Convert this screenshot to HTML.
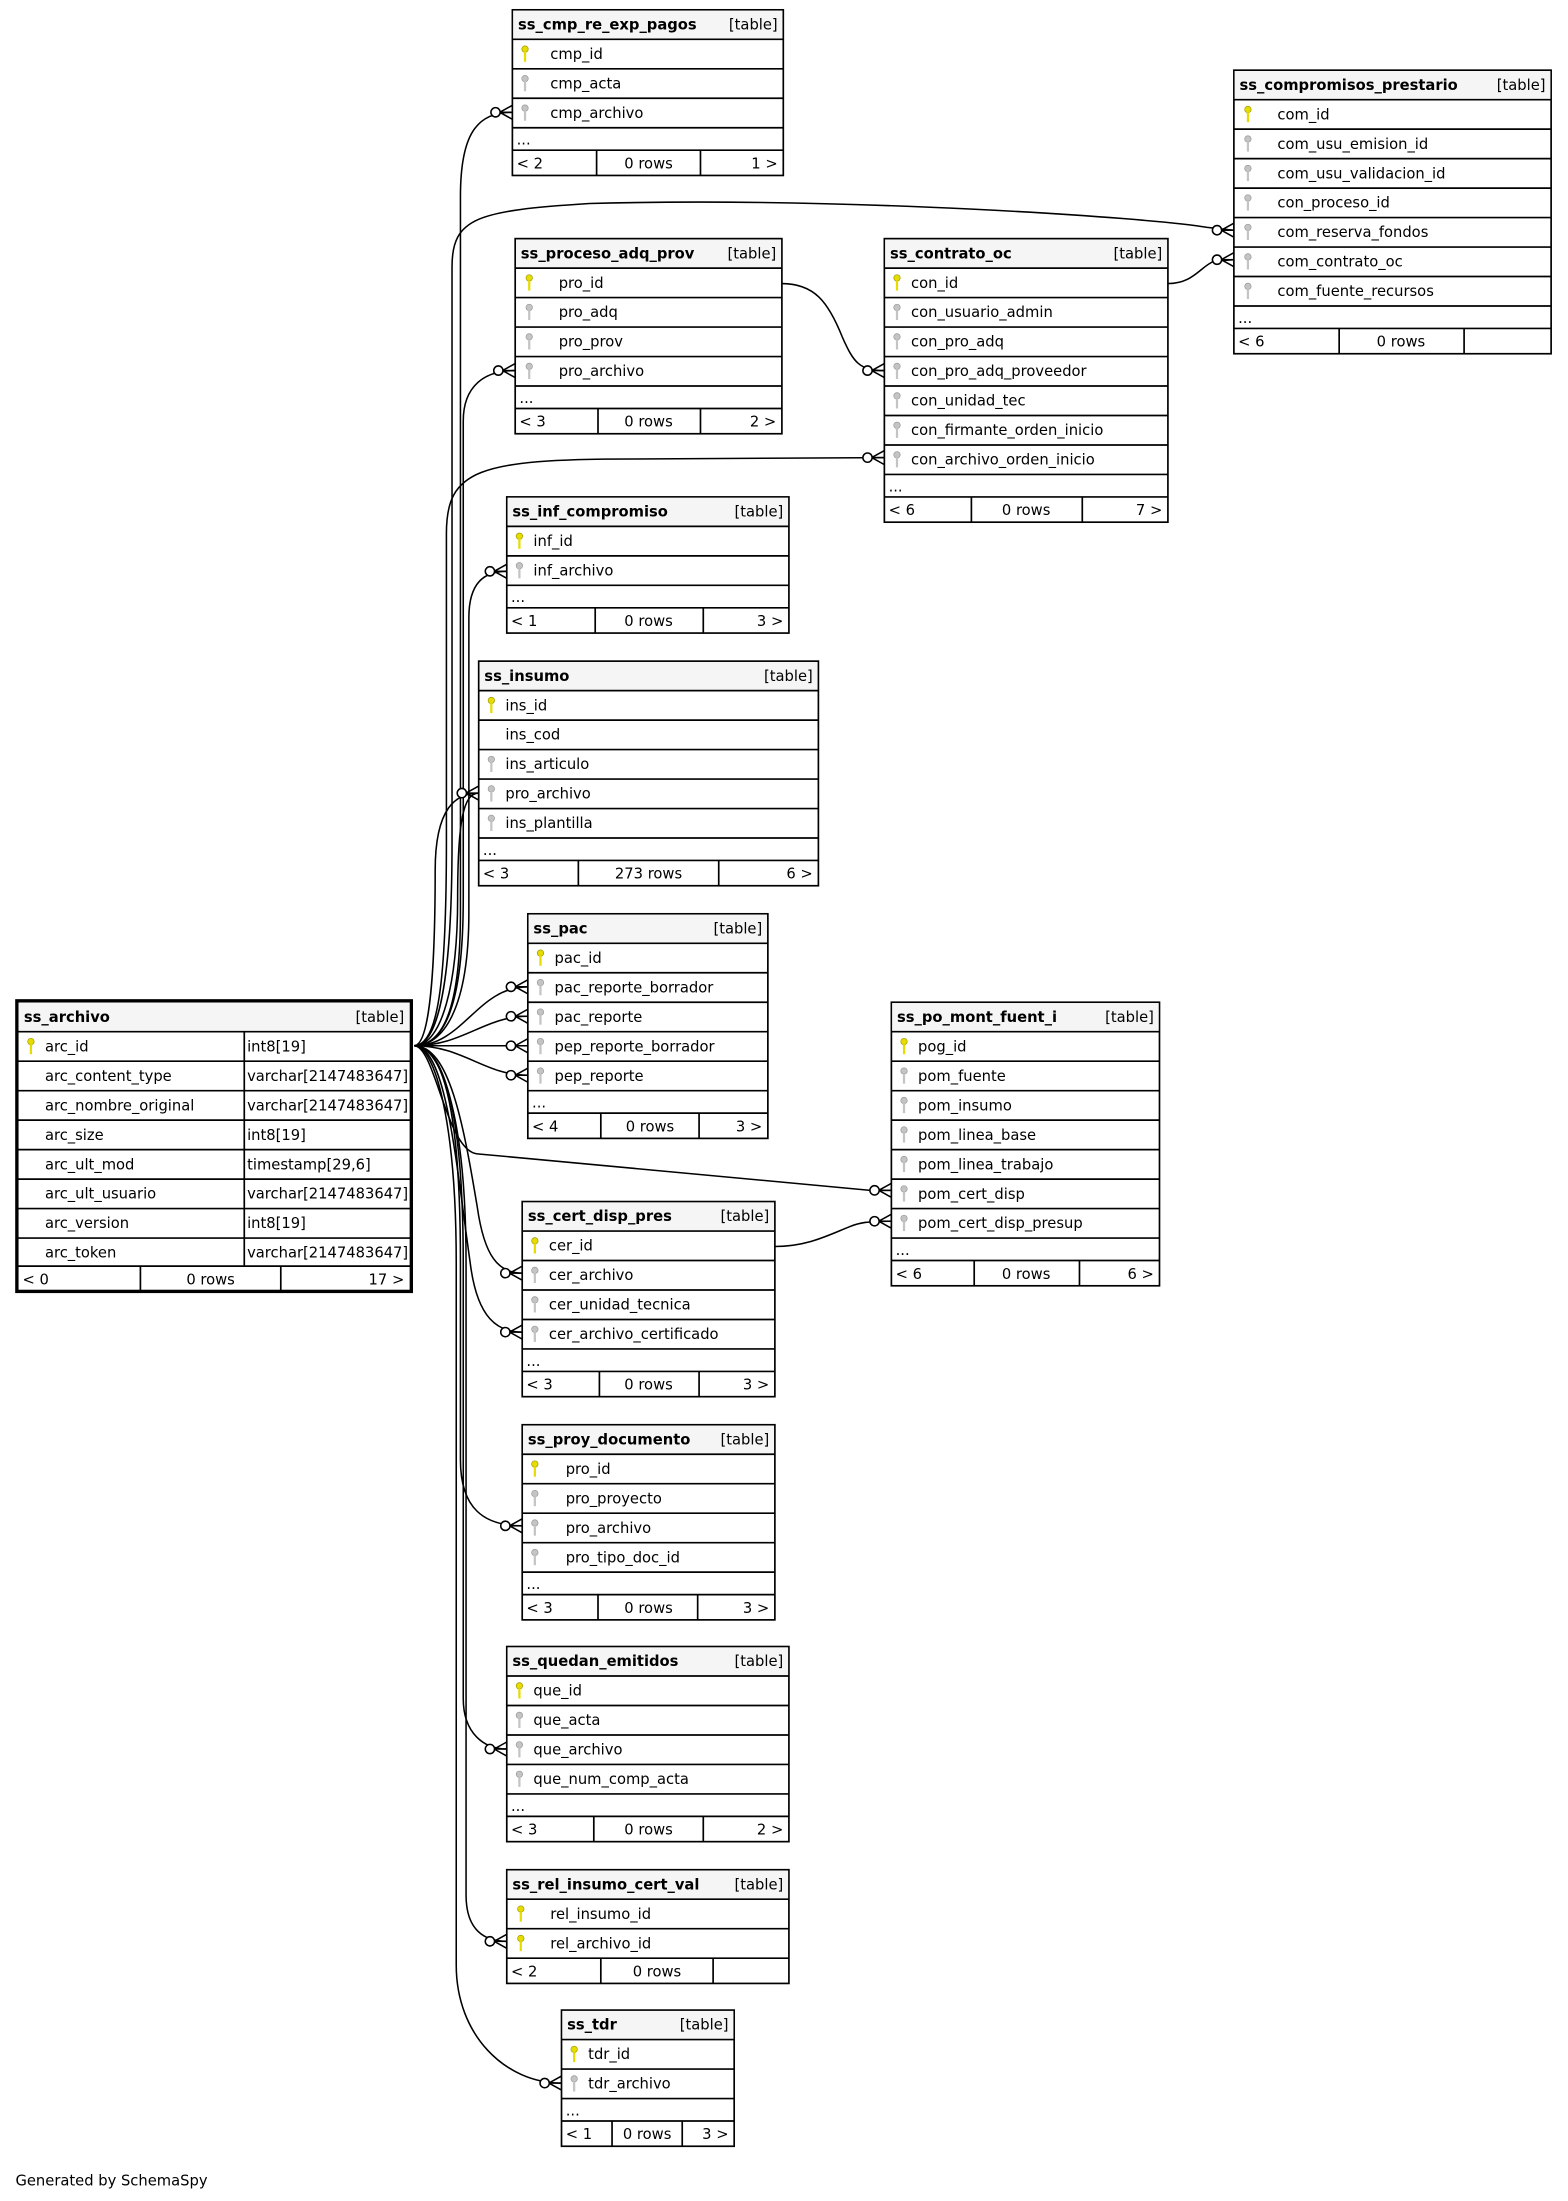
<!DOCTYPE html>
<html><head><meta charset="utf-8"><style>
html,body{margin:0;padding:0;background:#fff;}
svg{display:block;}
text{font-family:"DejaVu Sans","Liberation Sans",sans-serif;font-size:10.5px;fill:#000;}
.b{font-weight:bold;}
.e{text-anchor:end;}
.m{text-anchor:middle;}
.h{fill:#f5f5f5;}
.t{fill:#fff;stroke:#000;stroke-width:1.2;}
.l{stroke:#000;stroke-width:1.2;}
.c{fill:none;stroke:#000;stroke-width:1.1;}
.o{fill:#fff;stroke:#000;stroke-width:1.1;}
</style></head><body>
<svg width="1568" height="2201" viewBox="0 0 1117 1568" xmlns="http://www.w3.org/2000/svg">
<defs>
<g id="pk"><circle cx="0" cy="-3" r="2.3" fill="#e6dc00" stroke="#a09a00" stroke-width="0.5"/><rect x="-0.8" y="-1" width="1.6" height="7" fill="#e6dc00"/></g>
<g id="fk"><circle cx="0" cy="-3" r="2.3" fill="#c4c4c4" stroke="#999" stroke-width="0.5"/><rect x="-0.8" y="-1" width="1.6" height="7" fill="#c4c4c4"/></g>
<g id="cf"><line x1="-9" y1="0" x2="0" y2="-5" class="c"/><line x1="-9" y1="0" x2="0" y2="0" class="c"/><line x1="-9" y1="0" x2="0" y2="5" class="c"/><circle cx="-12" cy="0" r="3.3" class="o"/></g>
</defs>

<path class="c" d="M295,745 C315,745 328,720 328,650 L328,140 C328,95 340,80 365,80"/>
<path class="c" d="M295,745 C312,745 322,700 322,600 L322,190 C322,155 340,150 420,145 C600,140 820,155 860,162 L879,164"/>
<path class="c" d="M295,745 C315,745 330,720 330,640 L330,300 C330,275 345,264 367,264"/>
<path class="c" d="M295,745 C312,745 318,700 318,600 L318,380 C318,335 340,327 450,327 L630,326"/>
<path class="c" d="M295,745 C315,745 334,720 334,650 L334,440 C334,415 345,407 361,407"/>
<path class="c" d="M295,745 C305,745 310,700 310,620 C310,575 325,565 341,565"/>
<path class="c" d="M295,745 C315,745 326,700 326,640 C326,585 330,565 341,565"/>
<path class="c" d="M295,745 C330,745 340,703 376,703"/>
<path class="c" d="M295,745 C330,745 345,724 376,724"/>
<path class="c" d="M295,745 L376,745"/>
<path class="c" d="M295,745 C330,745 345,766 376,766"/>
<path class="c" d="M295,745 C310,745 318,820 340,822 L620,848 L635,848"/>
<path class="c" d="M295,745 C320,745 330,800 340,860 C345,895 355,907 372,907"/>
<path class="c" d="M295,745 C318,745 325,830 335,900 C340,940 355,949 372,949"/>
<path class="c" d="M295,745 C318,745 328,800 328,900 L328,1040 C328,1075 345,1087 372,1087"/>
<path class="c" d="M295,745 C318,745 330,800 330,900 L330,1210 C330,1235 345,1246 361,1246"/>
<path class="c" d="M295,745 C316,745 332,800 332,900 L332,1350 C332,1375 345,1383 361,1383"/>
<path class="c" d="M295,745 C310,745 325,800 325,900 L325,1400 C325,1450 360,1484 400,1484"/>
<path class="c" d="M557,202 C580,202 590,215 600,240 C608,258 612,264 630,264"/>
<path class="c" d="M832,202 C850,202 855,190 865,186 L879,185"/>
<path class="c" d="M552,888 C575,888 590,880 605,874 C612,871 618,870 635,870"/>

<use href="#cf" x="365" y="80"/>
<use href="#cf" x="879" y="164"/>
<use href="#cf" x="879" y="185"/>
<use href="#cf" x="367" y="264"/>
<use href="#cf" x="630" y="264"/>
<use href="#cf" x="630" y="326"/>
<use href="#cf" x="361" y="407"/>
<use href="#cf" x="341" y="565"/>
<use href="#cf" x="376" y="703"/>
<use href="#cf" x="376" y="724"/>
<use href="#cf" x="376" y="745"/>
<use href="#cf" x="376" y="766"/>
<use href="#cf" x="635" y="848"/>
<use href="#cf" x="635" y="870"/>
<use href="#cf" x="372" y="907"/>
<use href="#cf" x="372" y="949"/>
<use href="#cf" x="372" y="1087"/>
<use href="#cf" x="361" y="1246"/>
<use href="#cf" x="361" y="1383"/>
<use href="#cf" x="400" y="1484"/>

<g transform="translate(365,7)">
<rect class="t" x="0" y="0" width="193" height="118"/><rect class="h" x="0.6" y="0.6" width="191.8" height="20.4"/>
<line class="l" x1="0" y1="21" x2="193" y2="21"/><line class="l" x1="0" y1="42" x2="193" y2="42"/><line class="l" x1="0" y1="63" x2="193" y2="63"/><line class="l" x1="0" y1="84" x2="193" y2="84"/><line class="l" x1="0" y1="100" x2="193" y2="100"/>
<line class="l" x1="60" y1="100" x2="60" y2="118"/><line class="l" x1="134" y1="100" x2="134" y2="118"/>
<text class="b" x="4" y="14">ss_cmp_re_exp_pagos</text><text class="e" x="189" y="14">[table]</text>
<use href="#pk" x="9" y="31"/><text x="27" y="35">cmp_id</text>
<use href="#fk" x="9" y="52"/><text x="27" y="56">cmp_acta</text>
<use href="#fk" x="9" y="73"/><text x="27" y="77">cmp_archivo</text>
<text x="3" y="96">...</text>
<text x="3" y="113">&lt; 2</text><text class="m" x="97" y="113">0 rows</text><text class="e" x="189" y="113">1 &gt;</text>
</g>

<g transform="translate(879,50)">
<rect class="t" x="0" y="0" width="226" height="202"/><rect class="h" x="0.6" y="0.6" width="224.8" height="20.4"/>
<line class="l" x1="0" y1="21" x2="226" y2="21"/><line class="l" x1="0" y1="42" x2="226" y2="42"/><line class="l" x1="0" y1="63" x2="226" y2="63"/><line class="l" x1="0" y1="84" x2="226" y2="84"/><line class="l" x1="0" y1="105" x2="226" y2="105"/><line class="l" x1="0" y1="126" x2="226" y2="126"/><line class="l" x1="0" y1="147" x2="226" y2="147"/><line class="l" x1="0" y1="168" x2="226" y2="168"/><line class="l" x1="0" y1="184" x2="226" y2="184"/>
<line class="l" x1="75" y1="184" x2="75" y2="202"/><line class="l" x1="164" y1="184" x2="164" y2="202"/>
<text class="b" x="4" y="14">ss_compromisos_prestario</text><text class="e" x="222" y="14">[table]</text>
<use href="#pk" x="10" y="31"/><text x="31" y="35">com_id</text>
<use href="#fk" x="10" y="52"/><text x="31" y="56">com_usu_emision_id</text>
<use href="#fk" x="10" y="73"/><text x="31" y="77">com_usu_validacion_id</text>
<use href="#fk" x="10" y="94"/><text x="31" y="98">con_proceso_id</text>
<use href="#fk" x="10" y="115"/><text x="31" y="119">com_reserva_fondos</text>
<use href="#fk" x="10" y="136"/><text x="31" y="140">com_contrato_oc</text>
<use href="#fk" x="10" y="157"/><text x="31" y="161">com_fuente_recursos</text>
<text x="3" y="180">...</text>
<text x="3" y="197">&lt; 6</text><text class="m" x="119" y="197">0 rows</text>
</g>

<g transform="translate(367,170)">
<rect class="t" x="0" y="0" width="190" height="139"/><rect class="h" x="0.6" y="0.6" width="188.8" height="20.4"/>
<line class="l" x1="0" y1="21" x2="190" y2="21"/><line class="l" x1="0" y1="42" x2="190" y2="42"/><line class="l" x1="0" y1="63" x2="190" y2="63"/><line class="l" x1="0" y1="84" x2="190" y2="84"/><line class="l" x1="0" y1="105" x2="190" y2="105"/><line class="l" x1="0" y1="121" x2="190" y2="121"/>
<line class="l" x1="59" y1="121" x2="59" y2="139"/><line class="l" x1="132" y1="121" x2="132" y2="139"/>
<text class="b" x="4" y="14">ss_proceso_adq_prov</text><text class="e" x="186" y="14">[table]</text>
<use href="#pk" x="10" y="31"/><text x="31" y="35">pro_id</text>
<use href="#fk" x="10" y="52"/><text x="31" y="56">pro_adq</text>
<use href="#fk" x="10" y="73"/><text x="31" y="77">pro_prov</text>
<use href="#fk" x="10" y="94"/><text x="31" y="98">pro_archivo</text>
<text x="3" y="117">...</text>
<text x="3" y="134">&lt; 3</text><text class="m" x="95" y="134">0 rows</text><text class="e" x="186" y="134">2 &gt;</text>
</g>

<g transform="translate(630,170)">
<rect class="t" x="0" y="0" width="202" height="202"/><rect class="h" x="0.6" y="0.6" width="200.8" height="20.4"/>
<line class="l" x1="0" y1="21" x2="202" y2="21"/><line class="l" x1="0" y1="42" x2="202" y2="42"/><line class="l" x1="0" y1="63" x2="202" y2="63"/><line class="l" x1="0" y1="84" x2="202" y2="84"/><line class="l" x1="0" y1="105" x2="202" y2="105"/><line class="l" x1="0" y1="126" x2="202" y2="126"/><line class="l" x1="0" y1="147" x2="202" y2="147"/><line class="l" x1="0" y1="168" x2="202" y2="168"/><line class="l" x1="0" y1="184" x2="202" y2="184"/>
<line class="l" x1="62" y1="184" x2="62" y2="202"/><line class="l" x1="141" y1="184" x2="141" y2="202"/>
<text class="b" x="4" y="14">ss_contrato_oc</text><text class="e" x="198" y="14">[table]</text>
<use href="#pk" x="9" y="31"/><text x="19" y="35">con_id</text>
<use href="#fk" x="9" y="52"/><text x="19" y="56">con_usuario_admin</text>
<use href="#fk" x="9" y="73"/><text x="19" y="77">con_pro_adq</text>
<use href="#fk" x="9" y="94"/><text x="19" y="98">con_pro_adq_proveedor</text>
<use href="#fk" x="9" y="115"/><text x="19" y="119">con_unidad_tec</text>
<use href="#fk" x="9" y="136"/><text x="19" y="140">con_firmante_orden_inicio</text>
<use href="#fk" x="9" y="157"/><text x="19" y="161">con_archivo_orden_inicio</text>
<text x="3" y="180">...</text>
<text x="3" y="197">&lt; 6</text><text class="m" x="101" y="197">0 rows</text><text class="e" x="198" y="197">7 &gt;</text>
</g>

<g transform="translate(361,354)">
<rect class="t" x="0" y="0" width="201" height="97"/><rect class="h" x="0.6" y="0.6" width="199.8" height="20.4"/>
<line class="l" x1="0" y1="21" x2="201" y2="21"/><line class="l" x1="0" y1="42" x2="201" y2="42"/><line class="l" x1="0" y1="63" x2="201" y2="63"/><line class="l" x1="0" y1="79" x2="201" y2="79"/>
<line class="l" x1="63" y1="79" x2="63" y2="97"/><line class="l" x1="140" y1="79" x2="140" y2="97"/>
<text class="b" x="4" y="14">ss_inf_compromiso</text><text class="e" x="197" y="14">[table]</text>
<use href="#pk" x="9" y="31"/><text x="19" y="35">inf_id</text>
<use href="#fk" x="9" y="52"/><text x="19" y="56">inf_archivo</text>
<text x="3" y="75">...</text>
<text x="3" y="92">&lt; 1</text><text class="m" x="101" y="92">0 rows</text><text class="e" x="197" y="92">3 &gt;</text>
</g>

<g transform="translate(341,471)">
<rect class="t" x="0" y="0" width="242" height="160"/><rect class="h" x="0.6" y="0.6" width="240.8" height="20.4"/>
<line class="l" x1="0" y1="21" x2="242" y2="21"/><line class="l" x1="0" y1="42" x2="242" y2="42"/><line class="l" x1="0" y1="63" x2="242" y2="63"/><line class="l" x1="0" y1="84" x2="242" y2="84"/><line class="l" x1="0" y1="105" x2="242" y2="105"/><line class="l" x1="0" y1="126" x2="242" y2="126"/><line class="l" x1="0" y1="142" x2="242" y2="142"/>
<line class="l" x1="71" y1="142" x2="71" y2="160"/><line class="l" x1="171" y1="142" x2="171" y2="160"/>
<text class="b" x="4" y="14">ss_insumo</text><text class="e" x="238" y="14">[table]</text>
<use href="#pk" x="9" y="31"/><text x="19" y="35">ins_id</text>
<text x="19" y="56">ins_cod</text>
<use href="#fk" x="9" y="73"/><text x="19" y="77">ins_articulo</text>
<use href="#fk" x="9" y="94"/><text x="19" y="98">pro_archivo</text>
<use href="#fk" x="9" y="115"/><text x="19" y="119">ins_plantilla</text>
<text x="3" y="138">...</text>
<text x="3" y="155">&lt; 3</text><text class="m" x="121" y="155">273 rows</text><text class="e" x="238" y="155">6 &gt;</text>
</g>

<g transform="translate(376,651)">
<rect class="t" x="0" y="0" width="171" height="160"/><rect class="h" x="0.6" y="0.6" width="169.8" height="20.4"/>
<line class="l" x1="0" y1="21" x2="171" y2="21"/><line class="l" x1="0" y1="42" x2="171" y2="42"/><line class="l" x1="0" y1="63" x2="171" y2="63"/><line class="l" x1="0" y1="84" x2="171" y2="84"/><line class="l" x1="0" y1="105" x2="171" y2="105"/><line class="l" x1="0" y1="126" x2="171" y2="126"/><line class="l" x1="0" y1="142" x2="171" y2="142"/>
<line class="l" x1="52" y1="142" x2="52" y2="160"/><line class="l" x1="122" y1="142" x2="122" y2="160"/>
<text class="b" x="4" y="14">ss_pac</text><text class="e" x="167" y="14">[table]</text>
<use href="#pk" x="9" y="31"/><text x="19" y="35">pac_id</text>
<use href="#fk" x="9" y="52"/><text x="19" y="56">pac_reporte_borrador</text>
<use href="#fk" x="9" y="73"/><text x="19" y="77">pac_reporte</text>
<use href="#fk" x="9" y="94"/><text x="19" y="98">pep_reporte_borrador</text>
<use href="#fk" x="9" y="115"/><text x="19" y="119">pep_reporte</text>
<text x="3" y="138">...</text>
<text x="3" y="155">&lt; 4</text><text class="m" x="87" y="155">0 rows</text><text class="e" x="167" y="155">3 &gt;</text>
</g>

<g transform="translate(12,713)">
<rect x="0" y="0" width="281" height="207" fill="#fff" stroke="#000" stroke-width="2.4"/><rect class="h" x="1.2" y="1.2" width="278.6" height="20.8"/>
<line class="l" x1="0" y1="22" x2="281" y2="22"/><line class="l" x1="0" y1="43" x2="281" y2="43"/><line class="l" x1="0" y1="64" x2="281" y2="64"/><line class="l" x1="0" y1="85" x2="281" y2="85"/><line class="l" x1="0" y1="106" x2="281" y2="106"/><line class="l" x1="0" y1="127" x2="281" y2="127"/><line class="l" x1="0" y1="148" x2="281" y2="148"/><line class="l" x1="0" y1="169" x2="281" y2="169"/><line class="l" x1="0" y1="189" x2="281" y2="189"/>
<line class="l" x1="162" y1="22" x2="162" y2="189"/>
<line class="l" x1="88" y1="189" x2="88" y2="207"/><line class="l" x1="188" y1="189" x2="188" y2="207"/>
<text class="b" x="5" y="15">ss_archivo</text><text class="e" x="276" y="15">[table]</text>
<use href="#pk" x="10" y="32"/><text x="20" y="36">arc_id</text><text x="164" y="36">int8[19]</text>
<text x="20" y="57">arc_content_type</text><text x="164" y="57">varchar[2147483647]</text>
<text x="20" y="78">arc_nombre_original</text><text x="164" y="78">varchar[2147483647]</text>
<text x="20" y="99">arc_size</text><text x="164" y="99">int8[19]</text>
<text x="20" y="120">arc_ult_mod</text><text x="164" y="120">timestamp[29,6]</text>
<text x="20" y="141">arc_ult_usuario</text><text x="164" y="141">varchar[2147483647]</text>
<text x="20" y="162">arc_version</text><text x="164" y="162">int8[19]</text>
<text x="20" y="183">arc_token</text><text x="164" y="183">varchar[2147483647]</text>
<text x="4" y="202">&lt; 0</text><text class="m" x="138" y="202">0 rows</text><text class="e" x="276" y="202">17 &gt;</text>
</g>

<g transform="translate(635,714)">
<rect class="t" x="0" y="0" width="191" height="202"/><rect class="h" x="0.6" y="0.6" width="189.8" height="20.4"/>
<line class="l" x1="0" y1="21" x2="191" y2="21"/><line class="l" x1="0" y1="42" x2="191" y2="42"/><line class="l" x1="0" y1="63" x2="191" y2="63"/><line class="l" x1="0" y1="84" x2="191" y2="84"/><line class="l" x1="0" y1="105" x2="191" y2="105"/><line class="l" x1="0" y1="126" x2="191" y2="126"/><line class="l" x1="0" y1="147" x2="191" y2="147"/><line class="l" x1="0" y1="168" x2="191" y2="168"/><line class="l" x1="0" y1="184" x2="191" y2="184"/>
<line class="l" x1="59" y1="184" x2="59" y2="202"/><line class="l" x1="134" y1="184" x2="134" y2="202"/>
<text class="b" x="4" y="14">ss_po_mont_fuent_i</text><text class="e" x="187" y="14">[table]</text>
<use href="#pk" x="9" y="31"/><text x="19" y="35">pog_id</text>
<use href="#fk" x="9" y="52"/><text x="19" y="56">pom_fuente</text>
<use href="#fk" x="9" y="73"/><text x="19" y="77">pom_insumo</text>
<use href="#fk" x="9" y="94"/><text x="19" y="98">pom_linea_base</text>
<use href="#fk" x="9" y="115"/><text x="19" y="119">pom_linea_trabajo</text>
<use href="#fk" x="9" y="136"/><text x="19" y="140">pom_cert_disp</text>
<use href="#fk" x="9" y="157"/><text x="19" y="161">pom_cert_disp_presup</text>
<text x="3" y="180">...</text>
<text x="3" y="197">&lt; 6</text><text class="m" x="96" y="197">0 rows</text><text class="e" x="187" y="197">6 &gt;</text>
</g>

<g transform="translate(372,856)">
<rect class="t" x="0" y="0" width="180" height="139"/><rect class="h" x="0.6" y="0.6" width="178.8" height="20.4"/>
<line class="l" x1="0" y1="21" x2="180" y2="21"/><line class="l" x1="0" y1="42" x2="180" y2="42"/><line class="l" x1="0" y1="63" x2="180" y2="63"/><line class="l" x1="0" y1="84" x2="180" y2="84"/><line class="l" x1="0" y1="105" x2="180" y2="105"/><line class="l" x1="0" y1="121" x2="180" y2="121"/>
<line class="l" x1="55" y1="121" x2="55" y2="139"/><line class="l" x1="126" y1="121" x2="126" y2="139"/>
<text class="b" x="4" y="14">ss_cert_disp_pres</text><text class="e" x="176" y="14">[table]</text>
<use href="#pk" x="9" y="31"/><text x="19" y="35">cer_id</text>
<use href="#fk" x="9" y="52"/><text x="19" y="56">cer_archivo</text>
<use href="#fk" x="9" y="73"/><text x="19" y="77">cer_unidad_tecnica</text>
<use href="#fk" x="9" y="94"/><text x="19" y="98">cer_archivo_certificado</text>
<text x="3" y="117">...</text>
<text x="3" y="134">&lt; 3</text><text class="m" x="90" y="134">0 rows</text><text class="e" x="176" y="134">3 &gt;</text>
</g>

<g transform="translate(372,1015)">
<rect class="t" x="0" y="0" width="180" height="139"/><rect class="h" x="0.6" y="0.6" width="178.8" height="20.4"/>
<line class="l" x1="0" y1="21" x2="180" y2="21"/><line class="l" x1="0" y1="42" x2="180" y2="42"/><line class="l" x1="0" y1="63" x2="180" y2="63"/><line class="l" x1="0" y1="84" x2="180" y2="84"/><line class="l" x1="0" y1="105" x2="180" y2="105"/><line class="l" x1="0" y1="121" x2="180" y2="121"/>
<line class="l" x1="54" y1="121" x2="54" y2="139"/><line class="l" x1="125" y1="121" x2="125" y2="139"/>
<text class="b" x="4" y="14">ss_proy_documento</text><text class="e" x="176" y="14">[table]</text>
<use href="#pk" x="9" y="31"/><text x="31" y="35">pro_id</text>
<use href="#fk" x="9" y="52"/><text x="31" y="56">pro_proyecto</text>
<use href="#fk" x="9" y="73"/><text x="31" y="77">pro_archivo</text>
<use href="#fk" x="9" y="94"/><text x="31" y="98">pro_tipo_doc_id</text>
<text x="3" y="117">...</text>
<text x="3" y="134">&lt; 3</text><text class="m" x="90" y="134">0 rows</text><text class="e" x="176" y="134">3 &gt;</text>
</g>

<g transform="translate(361,1173)">
<rect class="t" x="0" y="0" width="201" height="139"/><rect class="h" x="0.6" y="0.6" width="199.8" height="20.4"/>
<line class="l" x1="0" y1="21" x2="201" y2="21"/><line class="l" x1="0" y1="42" x2="201" y2="42"/><line class="l" x1="0" y1="63" x2="201" y2="63"/><line class="l" x1="0" y1="84" x2="201" y2="84"/><line class="l" x1="0" y1="105" x2="201" y2="105"/><line class="l" x1="0" y1="121" x2="201" y2="121"/>
<line class="l" x1="62" y1="121" x2="62" y2="139"/><line class="l" x1="140" y1="121" x2="140" y2="139"/>
<text class="b" x="4" y="14">ss_quedan_emitidos</text><text class="e" x="197" y="14">[table]</text>
<use href="#pk" x="9" y="31"/><text x="19" y="35">que_id</text>
<use href="#fk" x="9" y="52"/><text x="19" y="56">que_acta</text>
<use href="#fk" x="9" y="73"/><text x="19" y="77">que_archivo</text>
<use href="#fk" x="9" y="94"/><text x="19" y="98">que_num_comp_acta</text>
<text x="3" y="117">...</text>
<text x="3" y="134">&lt; 3</text><text class="m" x="101" y="134">0 rows</text><text class="e" x="197" y="134">2 &gt;</text>
</g>

<g transform="translate(361,1332)">
<rect class="t" x="0" y="0" width="201" height="81"/><rect class="h" x="0.6" y="0.6" width="199.8" height="20.4"/>
<line class="l" x1="0" y1="21" x2="201" y2="21"/><line class="l" x1="0" y1="42" x2="201" y2="42"/><line class="l" x1="0" y1="63" x2="201" y2="63"/>
<line class="l" x1="67" y1="63" x2="67" y2="81"/><line class="l" x1="147" y1="63" x2="147" y2="81"/>
<text class="b" x="4" y="14">ss_rel_insumo_cert_val</text><text class="e" x="197" y="14">[table]</text>
<use href="#pk" x="10" y="31"/><text x="31" y="35">rel_insumo_id</text>
<use href="#pk" x="10" y="52"/><text x="31" y="56">rel_archivo_id</text>
<text x="3" y="76">&lt; 2</text><text class="m" x="107" y="76">0 rows</text>
</g>

<g transform="translate(400,1432)">
<rect class="t" x="0" y="0" width="123" height="97"/><rect class="h" x="0.6" y="0.6" width="121.8" height="20.4"/>
<line class="l" x1="0" y1="21" x2="123" y2="21"/><line class="l" x1="0" y1="42" x2="123" y2="42"/><line class="l" x1="0" y1="63" x2="123" y2="63"/><line class="l" x1="0" y1="79" x2="123" y2="79"/>
<line class="l" x1="36" y1="79" x2="36" y2="97"/><line class="l" x1="86" y1="79" x2="86" y2="97"/>
<text class="b" x="4" y="14">ss_tdr</text><text class="e" x="119" y="14">[table]</text>
<use href="#pk" x="9" y="31"/><text x="19" y="35">tdr_id</text>
<use href="#fk" x="9" y="52"/><text x="19" y="56">tdr_archivo</text>
<text x="3" y="75">...</text>
<text x="3" y="92">&lt; 1</text><text class="m" x="61" y="92">0 rows</text><text class="e" x="119" y="92">3 &gt;</text>
</g>

<text x="11" y="1557">Generated by SchemaSpy</text>
</svg>
</body></html>
